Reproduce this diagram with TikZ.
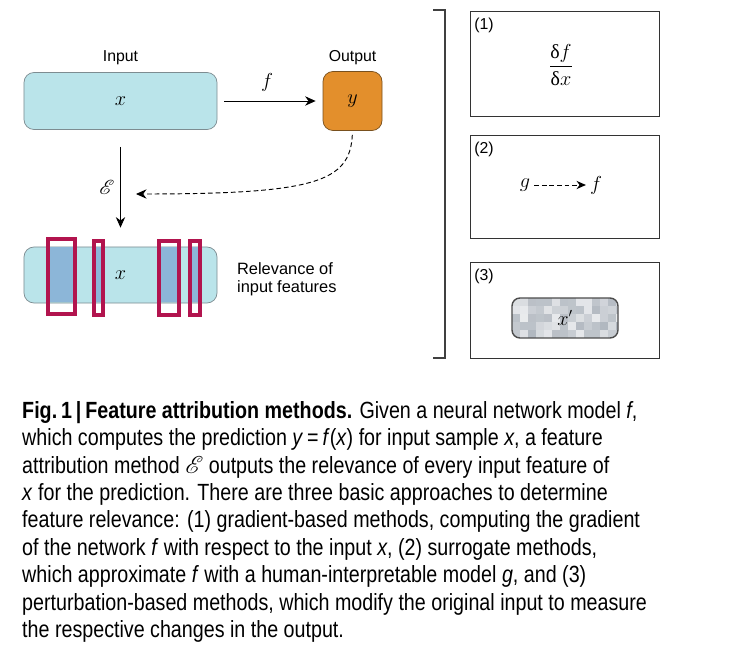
\documentclass[tikz,border=0pt]{standalone}
\usepackage{fontspec}
\usepackage{amsmath}
\usepackage{mathrsfs}
\usetikzlibrary{arrows.meta}
\newfontfamily\labelfont{Liberation Sans}
\newfontfamily\capfont{Liberation Sans}[FakeStretch=0.84]
\newfontfamily\grkfont{Liberation Serif}
\definecolor{featcyan}{RGB}{186,228,234}
\definecolor{featedge}{RGB}{125,140,145}
\definecolor{outorange}{RGB}{227,143,44}
\definecolor{outedge}{RGB}{120,80,30}
\definecolor{relblue}{RGB}{140,182,216}
\definecolor{relred}{RGB}{178,20,78}
\definecolor{pixbase}{RGB}{70,85,105}
\tikzset{
  featbox/.style={draw=featedge, fill=featcyan, rounded corners=0.3cm, line width=0.6pt,
    minimum width=5.79cm, minimum height=1.71cm, font=\fontsize{16}{18}\selectfont},
  outbox/.style={draw=outedge, fill=outorange, rounded corners=0.3cm, line width=0.6pt,
    minimum width=1.77cm, minimum height=1.77cm, font=\fontsize{16}{18}\selectfont},
  labeltext/.style={font=\labelfont\fontsize{13.5}{15}\selectfont},
  mathtext/.style={font=\fontsize{16}{18}\selectfont},
  flow/.style={line width=0.8pt, -{Stealth[length=9pt, width=8pt]}},
  relframe/.style={draw=relred, line width=3.2pt},
  methodbox/.style={draw=black!80, line width=0.8pt, minimum width=5.67cm},
  pixbox/.style={draw=black!70, line width=1.2pt, rounded corners=0.24cm,
    minimum width=3.18cm, minimum height=1.2cm, font=\fontsize{16}{18}\selectfont},
  captext/.style={font=\capfont\fontsize{20}{23.4}\selectfont, align=left, inner sep=0pt}
}
\begin{document}
\begin{tikzpicture}[x=0.03cm, y=-0.03cm]
  \useasboundingbox (0,0) rectangle (732,655);
  % input and output
  \node[featbox] (input) at (120.5,101) {$x$};
  \node[labeltext] (inputlbl) at (120.5,58) {Input};
  \node[outbox] (output) at (352.5,101) {$y$};
  \node[labeltext] (outputlbl) at (352.5,58) {Output};
  \draw[flow, shorten <=0.21cm, shorten >=0.21cm] (input.east) -- (output.west);
  \node[mathtext] (flbl) at (267,82) {$f$};
  % relevance
  \node[featbox, minimum height=1.68cm] (relbox) at (120.5,275) {$x$};
  \foreach \xa/\xb/\ya/\yb in {48/75/239/314, 94/103/241/315, 159/179/241/315, 190/200/241/315}
  {
    \fill[relblue] (\xa,247.5) rectangle (\xb,302.5);
    \draw[relframe] (\xa,\ya) rectangle (\xb,\yb);
  }
  \draw[flow, shorten <=0.51cm, shorten >=0.57cm] (input.south) -- (relbox.north);
  \node[mathtext, font=\fontsize{19}{21}\selectfont] (expl) at (107,187) {$\mathscr{E}$};
  \coordinate (dashend) at (136,194);
  \draw[flow, dash pattern=on 4pt off 2.5pt, shorten <=0.12cm] (output.south)
    .. controls (350,182) and (315,194) .. (dashend);
  \node[labeltext, font=\labelfont\fontsize{14}{15.5}\selectfont, align=left, anchor=west] (rellbl) at (233,279) {Relevance of\\input features};
  % bracket
  \draw[line width=1pt, black!75] (433,10) -- (445,10) -- (445,358) -- (433,358);
  % (1) gradient
  \node[methodbox, minimum height=3.15cm] (grad) at (564.5,63.5) {};
  \node[labeltext, anchor=north west, inner sep=0pt] (gradnum) at ([xshift=0.14cm, yshift=-0.22cm]grad.north west) {(1)};
  \node[mathtext, font=\fontsize{17}{19}\selectfont] (gradfrac) at (561,65)
    {$\dfrac{\text{\grkfont δ}f}{\text{\grkfont δ}x}$};
  % (2) surrogate
  \node[methodbox, minimum height=3.09cm] (surr) at (564.5,186.5) {};
  \node[labeltext, anchor=north west, inner sep=0pt] (surrnum) at ([xshift=0.14cm, yshift=-0.22cm]surr.north west) {(2)};
  \node[mathtext] (surg) at (525,185) {$g$};
  \node[mathtext] (surf) at (596,185) {$f$};
  \draw[flow, dash pattern=on 4pt off 2.5pt, -{Stealth[length=8pt, width=7pt]}] (surg) -- (surf);
  % (3) perturbation
  \node[methodbox, minimum height=2.88cm] (pert) at (564.5,310) {};
  \node[labeltext, anchor=north west, inner sep=0pt] (pertnum) at ([xshift=0.14cm, yshift=-0.22cm]pert.north west) {(3)};
  \begin{scope}
    \clip[rounded corners=0.24cm] (512,298) rectangle (618,338);
    \pgfmathsetseed{11}
    \foreach \i in {0,...,13}
      \foreach \j in {0,...,4}
      {
        \pgfmathrandominteger{\tone}{12}{42}
        \fill[pixbase!\tone!white] (512+\i*8,298+\j*8) rectangle +(8,8);
      }
  \end{scope}
  \node[pixbox] (pertx) at (565,318) {$x'$};
  % caption
  \node[captext, anchor=north west] (caption) at (22,401) {%
    \textbf{Fig.\,1\,|\,Feature attribution methods.} Given a neural network model \textit{f},\\
    which computes the prediction \textit{y}\,=\,\textit{f}(\textit{x}) for input sample \textit{x}, a feature\\
    attribution method $\mathscr{E}$ outputs the relevance of every input feature of\\
    \textit{x} for the prediction. There are three basic approaches to determine\\
    feature relevance: (1) gradient-based methods, computing the gradient\\
    of the network \textit{f} with respect to the input \textit{x}, (2) surrogate methods,\\
    which approximate \textit{f} with a human-interpretable model \textit{g}, and (3)\\
    perturbation-based methods, which modify the original input to measure\\
    the respective changes in the output.};
\end{tikzpicture}
\end{document}
